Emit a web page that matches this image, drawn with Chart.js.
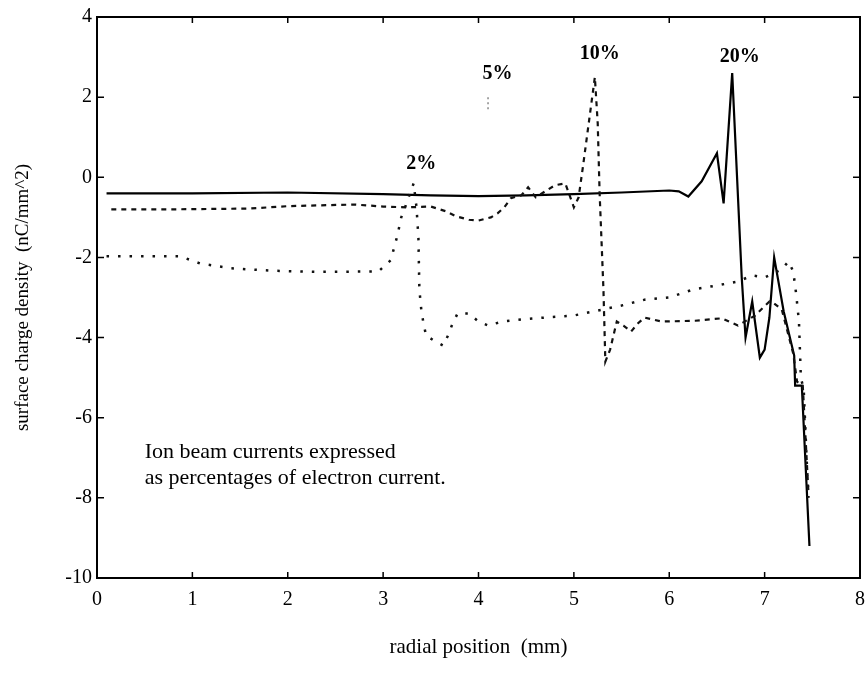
<!DOCTYPE html>
<html>
<head>
<meta charset="utf-8">
<script src="https://cdn.jsdelivr.net/npm/chart.js@4.4.1/dist/chart.umd.min.js"></script>
<style>
  html, body { margin: 0; padding: 0; background: #fff; }
  #wrap { width: 868px; height: 674px; }
</style>
</head>
<body>
<div id="wrap"><canvas id="myChart" width="868" height="674"></canvas></div>
<script>
// radial position (mm) / surface charge density (nC/mm^2)
const x20 = [0.1, 1.0, 2.0, 3.0, 3.5, 4.0, 4.5, 5.0, 5.5, 6.0, 6.1, 6.2, 6.34, 6.5, 6.57, 6.66, 6.76, 6.8, 6.87, 6.95, 7.0, 7.05, 7.1, 7.2, 7.31, 7.32, 7.39, 7.47];
const y20 = [-0.4, -0.4, -0.38, -0.42, -0.45, -0.47, -0.45, -0.42, -0.38, -0.33, -0.35, -0.48, -0.1, 0.6, -0.65, 2.6, -2.5, -4.0, -3.1, -4.5, -4.3, -3.5, -2.0, -3.35, -4.45, -5.2, -5.2, -9.2];

const x10 = [0.15, 0.8, 1.6, 2.0, 2.7, 3.0, 3.25, 3.5, 3.66, 3.76, 3.9, 4.0, 4.13, 4.2, 4.27, 4.34, 4.45, 4.52, 4.6, 4.8, 4.91, 5.0, 5.05, 5.1, 5.22, 5.25, 5.27, 5.29, 5.31, 5.33, 5.38, 5.45, 5.52, 5.6, 5.67, 5.74, 5.92, 6.27, 6.55, 6.72, 6.9, 7.05, 7.1, 7.18, 7.3, 7.34, 7.4, 7.44, 7.46];
const y10 = [-0.8, -0.8, -0.78, -0.72, -0.68, -0.73, -0.75, -0.73, -0.85, -0.97, -1.06, -1.08, -1.0, -0.9, -0.75, -0.52, -0.45, -0.25, -0.5, -0.2, -0.15, -0.75, -0.5, 0.35, 2.5, 1.35, -0.4, -1.6, -2.8, -4.6, -4.3, -3.6, -3.7, -3.85, -3.65, -3.5, -3.6, -3.58, -3.52, -3.7, -3.45, -3.1, -3.15, -3.3, -4.4, -5.1, -5.2, -7.0, -7.9];

// only the top of the 5% spike survived in the print
const x5 = [4.1, 4.1];
const y5 = [1.7, 2.0];

const x2 = [0.1, 0.5, 0.87, 1.08, 1.4, 1.82, 2.3, 2.95, 3.08, 3.15, 3.19, 3.23, 3.32, 3.35, 3.37, 3.38, 3.4, 3.42, 3.45, 3.53, 3.63, 3.68, 3.72, 3.78, 3.9, 4.0, 4.1, 4.25, 4.45, 4.7, 5.0, 5.3, 5.5, 5.75, 6.0, 6.25, 6.5, 6.72, 6.87, 7.0, 7.18, 7.25, 7.3, 7.33, 7.36, 7.38, 7.41, 7.44, 7.46];
const y2 = [-1.97, -1.97, -1.97, -2.15, -2.27, -2.33, -2.36, -2.35, -2.07, -1.45, -1.0, -0.75, -0.15, -0.75, -1.5, -2.8, -3.3, -3.6, -3.95, -4.07, -4.2, -3.95, -3.7, -3.4, -3.4, -3.6, -3.7, -3.6, -3.55, -3.5, -3.45, -3.3, -3.2, -3.05, -3.0, -2.8, -2.7, -2.6, -2.45, -2.5, -2.3, -2.1, -2.35, -2.9, -3.6, -5.0, -5.3, -7.0, -8.0];

// peak labels and the note, in data coordinates
const peakLabels = ['2%', '5%', '10%', '20%'];
const peakX = [3.4, 4.2, 5.27, 6.74];
const peakY = [0.34, 2.58, 3.08, 3.0];
const noteLines = ['Ion beam currents expressed', 'as percentages of electron current.'];
const noteX = 0.5;
const noteY = [-6.85, -7.52];

function pts(xs, ys) {
  return xs.map((x, i) => ({ x: x, y: ys[i] }));
}

const FONT = "'Liberation Serif', 'DejaVu Serif', serif";

// box frame with inward ticks on all four sides, plus the text inside the plot
const framePlugin = {
  id: 'frame',
  afterDraw(chart) {
    const ctx = chart.ctx;
    const a = chart.chartArea;
    const sx = chart.scales.x, sy = chart.scales.y;
    ctx.save();
    ctx.strokeStyle = '#000';
    ctx.lineWidth = 2;
    ctx.strokeRect(a.left, a.top, a.right - a.left, a.bottom - a.top);
    ctx.lineWidth = 1.5;
    ctx.beginPath();
    sx.ticks.forEach(t => {
      const px = sx.getPixelForValue(t.value);
      ctx.moveTo(px, a.bottom); ctx.lineTo(px, a.bottom - 6);
      ctx.moveTo(px, a.top); ctx.lineTo(px, a.top + 6);
    });
    sy.ticks.forEach(t => {
      const py = sy.getPixelForValue(t.value);
      ctx.moveTo(a.left, py); ctx.lineTo(a.left + 7, py);
      ctx.moveTo(a.right, py); ctx.lineTo(a.right - 7, py);
    });
    ctx.stroke();

    ctx.fillStyle = '#000';
    ctx.textAlign = 'center';
    ctx.textBaseline = 'middle';
    ctx.font = 'bold 20px ' + FONT;
    peakLabels.forEach((s, i) => {
      ctx.fillText(s, sx.getPixelForValue(peakX[i]), sy.getPixelForValue(peakY[i]));
    });
    ctx.textAlign = 'left';
    ctx.font = '22px ' + FONT;
    noteLines.forEach((s, i) => {
      ctx.fillText(s, sx.getPixelForValue(noteX), sy.getPixelForValue(noteY[i]));
    });
    ctx.restore();
  }
};

const ctx = document.getElementById('myChart').getContext('2d');

const myChart = new Chart(ctx, {
  type: 'scatter',
  data: {
    datasets: [
      {
        label: '2%',
        data: pts(x2, y2),
        borderColor: '#111',
        borderWidth: 2.5,
        borderDash: [2.5, 9],
        showLine: true
      },
      {
        label: '5%',
        data: pts(x5, y5),
        borderColor: '#888',
        borderWidth: 1.5,
        borderDash: [2, 3],
        showLine: true
      },
      {
        label: '10%',
        data: pts(x10, y10),
        borderColor: '#111',
        borderWidth: 2.2,
        borderDash: [5, 5],
        showLine: true
      },
      {
        label: '20%',
        data: pts(x20, y20),
        borderColor: '#000',
        borderWidth: 2.2,
        showLine: true
      }
    ]
  },
  options: {
    responsive: false,
    animation: false,
    layout: { padding: { top: 15, right: 8, left: 0, bottom: 0 } },
    elements: { point: { radius: 0 }, line: { tension: 0 } },
    plugins: {
      legend: { display: false },
      tooltip: { enabled: false }
    },
    scales: {
      x: {
        type: 'linear',
        min: 0,
        max: 8,
        grid: { display: false, tickLength: 0 },
        border: { display: false },
        ticks: { stepSize: 1, color: '#000', padding: 10, font: { family: FONT, size: 20 } },
        title: {
          display: true,
          text: 'radial position  (mm)',
          color: '#000',
          font: { family: FONT, size: 21 },
          padding: { top: 0, bottom: 14 }
        },
        afterFit(scale) {
          scale.height = 96;
          scale.paddingLeft = 0;
          scale.paddingRight = 0;
        }
      },
      y: {
        type: 'linear',
        min: -10,
        max: 4,
        grid: { display: false, tickLength: 0 },
        border: { display: false },
        ticks: { stepSize: 2, color: '#000', padding: 5, font: { family: FONT, size: 20 } },
        title: {
          display: true,
          text: 'surface charge density  (nC/mm^2)',
          color: '#000',
          font: { family: FONT, size: 19 },
          padding: { top: 12, bottom: 0 }
        },
        afterFit(scale) { scale.width = 97; }
      }
    }
  },
  plugins: [framePlugin]
});
</script>
</body>
</html>
